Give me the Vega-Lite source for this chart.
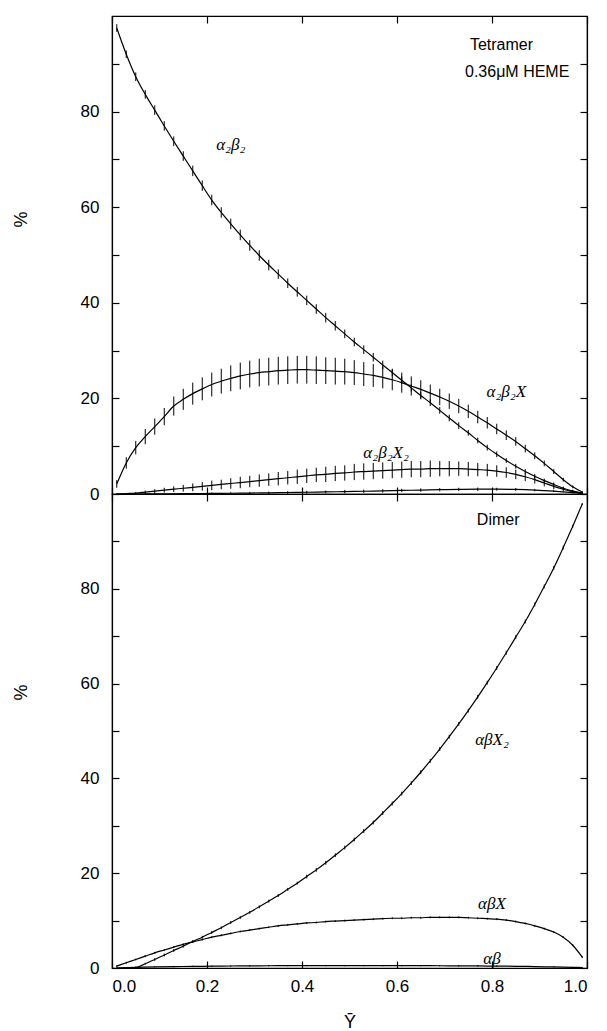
{
  "$schema": "https://vega.github.io/schema/vega-lite/v6.json",
  "background": "white",
  "padding": {"left": 11, "top": 14, "right": 15, "bottom": 0},
  "spacing": 0,
  "bounds": "flush",
  "config": {
    "font": "Liberation Sans",
    "view": {"stroke": "black", "strokeWidth": 1.2},
    "axis": {
      "grid": false, "domainColor": "black", "domainWidth": 1.2, "minExtent": 0,
      "tickColor": "black", "tickWidth": 1.2, "tickSize": -7,
      "labelColor": "black", "labelFont": "Liberation Sans", "labelFontSize": 17,
      "titleColor": "black", "titleFont": "Liberation Sans", "titleFontSize": 18, "titleFontWeight": "normal"
    }
  },
  "datasets": {
    "pts": [
      {"p":"T","s":"a2b2","x":0.01,"y":97.5,"e":0.8},{"p":"T","s":"a2b2","x":0.03,"y":92.0,"e":0.8},{"p":"T","s":"a2b2","x":0.05,"y":87.3,"e":0.9},{"p":"T","s":"a2b2","x":0.07,"y":83.6,"e":0.9},{"p":"T","s":"a2b2","x":0.09,"y":80.3,"e":1.0},{"p":"T","s":"a2b2","x":0.11,"y":77.0,"e":1.0},{"p":"T","s":"a2b2","x":0.13,"y":73.8,"e":1.0},{"p":"T","s":"a2b2","x":0.15,"y":70.7,"e":1.0},{"p":"T","s":"a2b2","x":0.17,"y":67.6,"e":1.1},{"p":"T","s":"a2b2","x":0.19,"y":64.5,"e":1.1},
      {"p":"T","s":"a2b2","x":0.21,"y":61.5,"e":1.1},{"p":"T","s":"a2b2","x":0.23,"y":58.9,"e":1.1},{"p":"T","s":"a2b2","x":0.25,"y":56.5,"e":1.1},{"p":"T","s":"a2b2","x":0.27,"y":54.2,"e":1.1},{"p":"T","s":"a2b2","x":0.29,"y":52.0,"e":1.1},{"p":"T","s":"a2b2","x":0.31,"y":49.9,"e":1.1},{"p":"T","s":"a2b2","x":0.33,"y":47.9,"e":1.1},{"p":"T","s":"a2b2","x":0.35,"y":46.0,"e":1.0},{"p":"T","s":"a2b2","x":0.37,"y":44.1,"e":1.0},{"p":"T","s":"a2b2","x":0.39,"y":42.3,"e":1.0},
      {"p":"T","s":"a2b2","x":0.41,"y":40.5,"e":1.0},{"p":"T","s":"a2b2","x":0.43,"y":38.7,"e":1.0},{"p":"T","s":"a2b2","x":0.45,"y":36.9,"e":1.0},{"p":"T","s":"a2b2","x":0.47,"y":35.2,"e":1.0},{"p":"T","s":"a2b2","x":0.49,"y":33.5,"e":0.9},{"p":"T","s":"a2b2","x":0.51,"y":31.8,"e":0.9},{"p":"T","s":"a2b2","x":0.53,"y":30.2,"e":0.9},{"p":"T","s":"a2b2","x":0.55,"y":28.6,"e":0.9},{"p":"T","s":"a2b2","x":0.57,"y":27.0,"e":0.9},{"p":"T","s":"a2b2","x":0.59,"y":25.4,"e":0.8},
      {"p":"T","s":"a2b2","x":0.61,"y":23.8,"e":0.8},{"p":"T","s":"a2b2","x":0.63,"y":22.2,"e":0.8},{"p":"T","s":"a2b2","x":0.65,"y":20.6,"e":0.8},{"p":"T","s":"a2b2","x":0.67,"y":19.1,"e":0.7},{"p":"T","s":"a2b2","x":0.69,"y":17.5,"e":0.7},{"p":"T","s":"a2b2","x":0.71,"y":15.9,"e":0.7},{"p":"T","s":"a2b2","x":0.73,"y":14.3,"e":0.7},{"p":"T","s":"a2b2","x":0.75,"y":12.8,"e":0.6},{"p":"T","s":"a2b2","x":0.77,"y":11.2,"e":0.6},{"p":"T","s":"a2b2","x":0.79,"y":9.7,"e":0.6},
      {"p":"T","s":"a2b2","x":0.81,"y":8.3,"e":0.6},{"p":"T","s":"a2b2","x":0.83,"y":7.0,"e":0.5},{"p":"T","s":"a2b2","x":0.85,"y":5.8,"e":0.5},{"p":"T","s":"a2b2","x":0.87,"y":4.7,"e":0.5},{"p":"T","s":"a2b2","x":0.89,"y":3.7,"e":0.5},{"p":"T","s":"a2b2","x":0.91,"y":2.8,"e":0.4},{"p":"T","s":"a2b2","x":0.93,"y":2.0,"e":0.4},{"p":"T","s":"a2b2","x":0.95,"y":1.2,"e":0.3},{"p":"T","s":"a2b2","x":0.97,"y":0.6,"e":0.3},{"p":"T","s":"a2b2","x":0.99,"y":0.2,"e":0.2},

      {"p":"T","s":"a2b2X","x":0.01,"y":2.1,"e":0.8},{"p":"T","s":"a2b2X","x":0.03,"y":6.5,"e":1.2},{"p":"T","s":"a2b2X","x":0.05,"y":9.7,"e":1.4},{"p":"T","s":"a2b2X","x":0.07,"y":12.0,"e":1.6},{"p":"T","s":"a2b2X","x":0.09,"y":14.1,"e":1.7},{"p":"T","s":"a2b2X","x":0.11,"y":16.2,"e":1.8},{"p":"T","s":"a2b2X","x":0.13,"y":18.4,"e":2.0},{"p":"T","s":"a2b2X","x":0.15,"y":19.8,"e":2.2},{"p":"T","s":"a2b2X","x":0.17,"y":21.0,"e":2.3},{"p":"T","s":"a2b2X","x":0.19,"y":22.0,"e":2.4},
      {"p":"T","s":"a2b2X","x":0.21,"y":22.9,"e":2.5},{"p":"T","s":"a2b2X","x":0.23,"y":23.6,"e":2.6},{"p":"T","s":"a2b2X","x":0.25,"y":24.2,"e":2.7},{"p":"T","s":"a2b2X","x":0.27,"y":24.7,"e":2.8},{"p":"T","s":"a2b2X","x":0.29,"y":25.1,"e":2.8},{"p":"T","s":"a2b2X","x":0.31,"y":25.4,"e":2.9},{"p":"T","s":"a2b2X","x":0.33,"y":25.6,"e":2.9},{"p":"T","s":"a2b2X","x":0.35,"y":25.8,"e":2.9},{"p":"T","s":"a2b2X","x":0.37,"y":25.9,"e":2.9},{"p":"T","s":"a2b2X","x":0.39,"y":26.0,"e":2.9},
      {"p":"T","s":"a2b2X","x":0.41,"y":26.0,"e":2.9},{"p":"T","s":"a2b2X","x":0.43,"y":25.9,"e":2.9},{"p":"T","s":"a2b2X","x":0.45,"y":25.8,"e":2.8},{"p":"T","s":"a2b2X","x":0.47,"y":25.7,"e":2.8},{"p":"T","s":"a2b2X","x":0.49,"y":25.6,"e":2.7},{"p":"T","s":"a2b2X","x":0.51,"y":25.4,"e":2.6},{"p":"T","s":"a2b2X","x":0.53,"y":25.1,"e":2.5},{"p":"T","s":"a2b2X","x":0.55,"y":24.8,"e":2.4},{"p":"T","s":"a2b2X","x":0.57,"y":24.4,"e":2.3},{"p":"T","s":"a2b2X","x":0.59,"y":23.9,"e":2.2},
      {"p":"T","s":"a2b2X","x":0.61,"y":23.3,"e":2.1},{"p":"T","s":"a2b2X","x":0.63,"y":22.6,"e":2.0},{"p":"T","s":"a2b2X","x":0.65,"y":21.9,"e":1.9},{"p":"T","s":"a2b2X","x":0.67,"y":21.1,"e":1.8},{"p":"T","s":"a2b2X","x":0.69,"y":20.3,"e":1.7},{"p":"T","s":"a2b2X","x":0.71,"y":19.4,"e":1.6},{"p":"T","s":"a2b2X","x":0.73,"y":18.4,"e":1.5},{"p":"T","s":"a2b2X","x":0.75,"y":17.3,"e":1.4},{"p":"T","s":"a2b2X","x":0.77,"y":16.1,"e":1.3},{"p":"T","s":"a2b2X","x":0.79,"y":14.9,"e":1.2},
      {"p":"T","s":"a2b2X","x":0.81,"y":13.6,"e":1.1},{"p":"T","s":"a2b2X","x":0.83,"y":12.3,"e":1.0},{"p":"T","s":"a2b2X","x":0.85,"y":11.0,"e":0.9},{"p":"T","s":"a2b2X","x":0.87,"y":9.5,"e":0.8},{"p":"T","s":"a2b2X","x":0.89,"y":8.0,"e":0.7},{"p":"T","s":"a2b2X","x":0.91,"y":6.4,"e":0.6},{"p":"T","s":"a2b2X","x":0.93,"y":4.7,"e":0.5},{"p":"T","s":"a2b2X","x":0.95,"y":3.0,"e":0.4},{"p":"T","s":"a2b2X","x":0.97,"y":1.5,"e":0.3},{"p":"T","s":"a2b2X","x":0.99,"y":0.4,"e":0.2},

      {"p":"T","s":"a2b2X2","x":0.01,"y":0.0,"e":0.1},{"p":"T","s":"a2b2X2","x":0.03,"y":0.1,"e":0.1},{"p":"T","s":"a2b2X2","x":0.05,"y":0.2,"e":0.2},{"p":"T","s":"a2b2X2","x":0.07,"y":0.4,"e":0.3},{"p":"T","s":"a2b2X2","x":0.09,"y":0.6,"e":0.4},{"p":"T","s":"a2b2X2","x":0.11,"y":0.8,"e":0.5},{"p":"T","s":"a2b2X2","x":0.13,"y":1.0,"e":0.6},{"p":"T","s":"a2b2X2","x":0.15,"y":1.2,"e":0.7},{"p":"T","s":"a2b2X2","x":0.17,"y":1.4,"e":0.8},{"p":"T","s":"a2b2X2","x":0.19,"y":1.6,"e":0.9},
      {"p":"T","s":"a2b2X2","x":0.21,"y":1.8,"e":1.0},{"p":"T","s":"a2b2X2","x":0.23,"y":2.0,"e":1.0},{"p":"T","s":"a2b2X2","x":0.25,"y":2.2,"e":1.1},{"p":"T","s":"a2b2X2","x":0.27,"y":2.4,"e":1.2},{"p":"T","s":"a2b2X2","x":0.29,"y":2.6,"e":1.2},{"p":"T","s":"a2b2X2","x":0.31,"y":2.8,"e":1.3},{"p":"T","s":"a2b2X2","x":0.33,"y":3.0,"e":1.3},{"p":"T","s":"a2b2X2","x":0.35,"y":3.2,"e":1.4},{"p":"T","s":"a2b2X2","x":0.37,"y":3.4,"e":1.4},{"p":"T","s":"a2b2X2","x":0.39,"y":3.6,"e":1.5},
      {"p":"T","s":"a2b2X2","x":0.41,"y":3.8,"e":1.5},{"p":"T","s":"a2b2X2","x":0.43,"y":4.0,"e":1.5},{"p":"T","s":"a2b2X2","x":0.45,"y":4.1,"e":1.6},{"p":"T","s":"a2b2X2","x":0.47,"y":4.3,"e":1.6},{"p":"T","s":"a2b2X2","x":0.49,"y":4.4,"e":1.6},{"p":"T","s":"a2b2X2","x":0.51,"y":4.6,"e":1.7},{"p":"T","s":"a2b2X2","x":0.53,"y":4.7,"e":1.7},{"p":"T","s":"a2b2X2","x":0.55,"y":4.8,"e":1.7},{"p":"T","s":"a2b2X2","x":0.57,"y":4.9,"e":1.7},{"p":"T","s":"a2b2X2","x":0.59,"y":5.0,"e":1.7},
      {"p":"T","s":"a2b2X2","x":0.61,"y":5.1,"e":1.7},{"p":"T","s":"a2b2X2","x":0.63,"y":5.2,"e":1.7},{"p":"T","s":"a2b2X2","x":0.65,"y":5.2,"e":1.7},{"p":"T","s":"a2b2X2","x":0.67,"y":5.3,"e":1.7},{"p":"T","s":"a2b2X2","x":0.69,"y":5.3,"e":1.6},{"p":"T","s":"a2b2X2","x":0.71,"y":5.3,"e":1.6},{"p":"T","s":"a2b2X2","x":0.73,"y":5.3,"e":1.5},{"p":"T","s":"a2b2X2","x":0.75,"y":5.2,"e":1.5},{"p":"T","s":"a2b2X2","x":0.77,"y":5.1,"e":1.4},{"p":"T","s":"a2b2X2","x":0.79,"y":5.0,"e":1.3},
      {"p":"T","s":"a2b2X2","x":0.81,"y":4.8,"e":1.2},{"p":"T","s":"a2b2X2","x":0.83,"y":4.5,"e":1.1},{"p":"T","s":"a2b2X2","x":0.85,"y":4.1,"e":1.0},{"p":"T","s":"a2b2X2","x":0.87,"y":3.6,"e":0.9},{"p":"T","s":"a2b2X2","x":0.89,"y":3.0,"e":0.8},{"p":"T","s":"a2b2X2","x":0.91,"y":2.3,"e":0.7},{"p":"T","s":"a2b2X2","x":0.93,"y":1.6,"e":0.6},{"p":"T","s":"a2b2X2","x":0.95,"y":1.0,"e":0.5},{"p":"T","s":"a2b2X2","x":0.97,"y":0.5,"e":0.3},{"p":"T","s":"a2b2X2","x":0.99,"y":0.2,"e":0.2},

      {"p":"T","s":"a2b2X3","x":0.01,"y":0.0,"e":0.05},{"p":"T","s":"a2b2X3","x":0.05,"y":0.0,"e":0.05},{"p":"T","s":"a2b2X3","x":0.09,"y":0.03,"e":0.1},{"p":"T","s":"a2b2X3","x":0.13,"y":0.05,"e":0.1},{"p":"T","s":"a2b2X3","x":0.17,"y":0.08,"e":0.15},{"p":"T","s":"a2b2X3","x":0.21,"y":0.12,"e":0.2},{"p":"T","s":"a2b2X3","x":0.25,"y":0.16,"e":0.2},{"p":"T","s":"a2b2X3","x":0.29,"y":0.2,"e":0.25},{"p":"T","s":"a2b2X3","x":0.33,"y":0.25,"e":0.25},{"p":"T","s":"a2b2X3","x":0.37,"y":0.31,"e":0.3},
      {"p":"T","s":"a2b2X3","x":0.41,"y":0.37,"e":0.3},{"p":"T","s":"a2b2X3","x":0.45,"y":0.43,"e":0.3},{"p":"T","s":"a2b2X3","x":0.49,"y":0.5,"e":0.35},{"p":"T","s":"a2b2X3","x":0.53,"y":0.58,"e":0.35},{"p":"T","s":"a2b2X3","x":0.57,"y":0.66,"e":0.35},{"p":"T","s":"a2b2X3","x":0.61,"y":0.74,"e":0.35},{"p":"T","s":"a2b2X3","x":0.65,"y":0.82,"e":0.35},{"p":"T","s":"a2b2X3","x":0.69,"y":0.9,"e":0.35},{"p":"T","s":"a2b2X3","x":0.73,"y":0.96,"e":0.35},{"p":"T","s":"a2b2X3","x":0.77,"y":1.0,"e":0.35},
      {"p":"T","s":"a2b2X3","x":0.81,"y":1.0,"e":0.3},{"p":"T","s":"a2b2X3","x":0.85,"y":0.95,"e":0.3},{"p":"T","s":"a2b2X3","x":0.89,"y":0.82,"e":0.25},{"p":"T","s":"a2b2X3","x":0.93,"y":0.6,"e":0.2},{"p":"T","s":"a2b2X3","x":0.97,"y":0.3,"e":0.15},{"p":"T","s":"a2b2X3","x":0.99,"y":0.15,"e":0.1},

      {"p":"D","s":"abX2","x":0.03,"y":0.0,"e":0.2},{"p":"D","s":"abX2","x":0.05,"y":0.1,"e":0.2},{"p":"D","s":"abX2","x":0.07,"y":0.9,"e":0.2},{"p":"D","s":"abX2","x":0.09,"y":1.8,"e":0.3},{"p":"D","s":"abX2","x":0.11,"y":2.75,"e":0.3},{"p":"D","s":"abX2","x":0.13,"y":3.7,"e":0.3},{"p":"D","s":"abX2","x":0.15,"y":4.6,"e":0.3},{"p":"D","s":"abX2","x":0.17,"y":5.6,"e":0.3},{"p":"D","s":"abX2","x":0.19,"y":6.5,"e":0.3},
      {"p":"D","s":"abX2","x":0.21,"y":7.5,"e":0.3},{"p":"D","s":"abX2","x":0.23,"y":8.5,"e":0.3},{"p":"D","s":"abX2","x":0.25,"y":9.6,"e":0.3},{"p":"D","s":"abX2","x":0.27,"y":10.65,"e":0.3},{"p":"D","s":"abX2","x":0.29,"y":11.75,"e":0.3},{"p":"D","s":"abX2","x":0.31,"y":12.9,"e":0.3},{"p":"D","s":"abX2","x":0.33,"y":14.1,"e":0.3},{"p":"D","s":"abX2","x":0.35,"y":15.3,"e":0.3},{"p":"D","s":"abX2","x":0.37,"y":16.6,"e":0.3},{"p":"D","s":"abX2","x":0.39,"y":17.9,"e":0.3},
      {"p":"D","s":"abX2","x":0.41,"y":19.3,"e":0.4},{"p":"D","s":"abX2","x":0.43,"y":20.7,"e":0.4},{"p":"D","s":"abX2","x":0.45,"y":22.2,"e":0.4},{"p":"D","s":"abX2","x":0.47,"y":23.8,"e":0.4},{"p":"D","s":"abX2","x":0.49,"y":25.4,"e":0.4},{"p":"D","s":"abX2","x":0.51,"y":27.1,"e":0.4},{"p":"D","s":"abX2","x":0.53,"y":28.9,"e":0.4},{"p":"D","s":"abX2","x":0.55,"y":30.7,"e":0.4},{"p":"D","s":"abX2","x":0.57,"y":32.7,"e":0.4},{"p":"D","s":"abX2","x":0.59,"y":34.7,"e":0.4},
      {"p":"D","s":"abX2","x":0.61,"y":36.8,"e":0.4},{"p":"D","s":"abX2","x":0.63,"y":39.0,"e":0.4},{"p":"D","s":"abX2","x":0.65,"y":41.3,"e":0.4},{"p":"D","s":"abX2","x":0.67,"y":43.7,"e":0.4},{"p":"D","s":"abX2","x":0.69,"y":46.2,"e":0.4},{"p":"D","s":"abX2","x":0.71,"y":48.8,"e":0.4},{"p":"D","s":"abX2","x":0.73,"y":51.5,"e":0.4},{"p":"D","s":"abX2","x":0.75,"y":54.3,"e":0.4},{"p":"D","s":"abX2","x":0.77,"y":57.2,"e":0.4},{"p":"D","s":"abX2","x":0.79,"y":60.2,"e":0.4},
      {"p":"D","s":"abX2","x":0.81,"y":63.3,"e":0.4},{"p":"D","s":"abX2","x":0.83,"y":66.5,"e":0.4},{"p":"D","s":"abX2","x":0.85,"y":69.8,"e":0.4},{"p":"D","s":"abX2","x":0.87,"y":73.1,"e":0.4},{"p":"D","s":"abX2","x":0.89,"y":76.7,"e":0.4},{"p":"D","s":"abX2","x":0.91,"y":80.5,"e":0.4},{"p":"D","s":"abX2","x":0.93,"y":84.4,"e":0.4},{"p":"D","s":"abX2","x":0.95,"y":88.7,"e":0.4},{"p":"D","s":"abX2","x":0.97,"y":93.2,"e":0.3},{"p":"D","s":"abX2","x":0.99,"y":97.9,"e":0.2},

      {"p":"D","s":"abX","x":0.01,"y":0.4,"e":0.2},{"p":"D","s":"abX","x":0.03,"y":1.1,"e":0.2},{"p":"D","s":"abX","x":0.05,"y":1.8,"e":0.2},{"p":"D","s":"abX","x":0.07,"y":2.5,"e":0.2},{"p":"D","s":"abX","x":0.09,"y":3.2,"e":0.2},{"p":"D","s":"abX","x":0.11,"y":3.8,"e":0.2},{"p":"D","s":"abX","x":0.13,"y":4.4,"e":0.2},{"p":"D","s":"abX","x":0.15,"y":5.0,"e":0.2},{"p":"D","s":"abX","x":0.17,"y":5.5,"e":0.2},{"p":"D","s":"abX","x":0.19,"y":6.0,"e":0.2},
      {"p":"D","s":"abX","x":0.21,"y":6.5,"e":0.2},{"p":"D","s":"abX","x":0.23,"y":6.9,"e":0.2},{"p":"D","s":"abX","x":0.25,"y":7.3,"e":0.2},{"p":"D","s":"abX","x":0.27,"y":7.7,"e":0.2},{"p":"D","s":"abX","x":0.29,"y":8.0,"e":0.2},{"p":"D","s":"abX","x":0.31,"y":8.3,"e":0.2},{"p":"D","s":"abX","x":0.33,"y":8.6,"e":0.2},{"p":"D","s":"abX","x":0.35,"y":8.9,"e":0.2},{"p":"D","s":"abX","x":0.37,"y":9.1,"e":0.2},{"p":"D","s":"abX","x":0.39,"y":9.3,"e":0.2},
      {"p":"D","s":"abX","x":0.41,"y":9.5,"e":0.2},{"p":"D","s":"abX","x":0.43,"y":9.6,"e":0.2},{"p":"D","s":"abX","x":0.45,"y":9.8,"e":0.2},{"p":"D","s":"abX","x":0.47,"y":9.9,"e":0.2},{"p":"D","s":"abX","x":0.49,"y":10.0,"e":0.2},{"p":"D","s":"abX","x":0.51,"y":10.1,"e":0.2},{"p":"D","s":"abX","x":0.53,"y":10.2,"e":0.2},{"p":"D","s":"abX","x":0.55,"y":10.3,"e":0.2},{"p":"D","s":"abX","x":0.57,"y":10.4,"e":0.2},{"p":"D","s":"abX","x":0.59,"y":10.5,"e":0.2},
      {"p":"D","s":"abX","x":0.61,"y":10.5,"e":0.2},{"p":"D","s":"abX","x":0.63,"y":10.6,"e":0.2},{"p":"D","s":"abX","x":0.65,"y":10.6,"e":0.2},{"p":"D","s":"abX","x":0.67,"y":10.7,"e":0.2},{"p":"D","s":"abX","x":0.69,"y":10.7,"e":0.2},{"p":"D","s":"abX","x":0.71,"y":10.7,"e":0.2},{"p":"D","s":"abX","x":0.73,"y":10.7,"e":0.2},{"p":"D","s":"abX","x":0.75,"y":10.6,"e":0.2},{"p":"D","s":"abX","x":0.77,"y":10.5,"e":0.2},{"p":"D","s":"abX","x":0.79,"y":10.4,"e":0.2},
      {"p":"D","s":"abX","x":0.81,"y":10.3,"e":0.2},{"p":"D","s":"abX","x":0.83,"y":10.1,"e":0.2},{"p":"D","s":"abX","x":0.85,"y":9.8,"e":0.2},{"p":"D","s":"abX","x":0.87,"y":9.4,"e":0.2},{"p":"D","s":"abX","x":0.89,"y":8.9,"e":0.2},{"p":"D","s":"abX","x":0.91,"y":8.3,"e":0.2},{"p":"D","s":"abX","x":0.93,"y":7.6,"e":0.2},{"p":"D","s":"abX","x":0.95,"y":6.5,"e":0.2},{"p":"D","s":"abX","x":0.97,"y":4.8,"e":0.2},{"p":"D","s":"abX","x":0.99,"y":2.3,"e":0.2},

      {"p":"D","s":"ab","x":0.01,"y":0.05,"e":0.1},{"p":"D","s":"ab","x":0.05,"y":0.15,"e":0.1},{"p":"D","s":"ab","x":0.09,"y":0.25,"e":0.1},{"p":"D","s":"ab","x":0.13,"y":0.3,"e":0.15},{"p":"D","s":"ab","x":0.17,"y":0.34,"e":0.15},{"p":"D","s":"ab","x":0.21,"y":0.38,"e":0.15},{"p":"D","s":"ab","x":0.25,"y":0.42,"e":0.15},{"p":"D","s":"ab","x":0.29,"y":0.45,"e":0.15},{"p":"D","s":"ab","x":0.33,"y":0.47,"e":0.15},{"p":"D","s":"ab","x":0.37,"y":0.49,"e":0.15},
      {"p":"D","s":"ab","x":0.41,"y":0.5,"e":0.15},{"p":"D","s":"ab","x":0.45,"y":0.5,"e":0.15},{"p":"D","s":"ab","x":0.49,"y":0.5,"e":0.15},{"p":"D","s":"ab","x":0.53,"y":0.5,"e":0.15},{"p":"D","s":"ab","x":0.57,"y":0.5,"e":0.15},{"p":"D","s":"ab","x":0.61,"y":0.5,"e":0.15},{"p":"D","s":"ab","x":0.65,"y":0.49,"e":0.15},{"p":"D","s":"ab","x":0.69,"y":0.47,"e":0.15},{"p":"D","s":"ab","x":0.73,"y":0.45,"e":0.15},{"p":"D","s":"ab","x":0.77,"y":0.43,"e":0.15},
      {"p":"D","s":"ab","x":0.81,"y":0.4,"e":0.15},{"p":"D","s":"ab","x":0.85,"y":0.36,"e":0.1},{"p":"D","s":"ab","x":0.89,"y":0.3,"e":0.1},{"p":"D","s":"ab","x":0.93,"y":0.22,"e":0.1},{"p":"D","s":"ab","x":0.97,"y":0.14,"e":0.1},{"p":"D","s":"ab","x":0.99,"y":0.1,"e":0.1}
    ],
    "curvelabs": [
      {"p":"T","x":0.25,"y":73,"t":"α₂β₂"},
      {"p":"T","x":0.83,"y":21.3,"t":"α₂β₂X"},
      {"p":"T","x":0.577,"y":8.6,"t":"α₂β₂X₂"},
      {"p":"D","x":0.8,"y":48,"t":"αβX₂"},
      {"p":"D","x":0.8,"y":13.5,"t":"αβX"},
      {"p":"D","x":0.8,"y":2,"t":"αβ"}
    ],
    "heads": [
      {"p":"T","x":0.82,"y":93.9,"t":"Tetramer"},
      {"p":"T","x":0.853,"y":88.2,"t":"0.36μM HEME"},
      {"p":"D","x":0.813,"y":94.5,"t":"Dimer"}
    ]
  },
  "vconcat": [
    {
      "width": 475, "height": 478,
      "layer": [
        {
          "data": {"name": "pts"},
          "transform": [{"filter": "datum.p === 'T'"}],
          "mark": {"type": "line", "interpolate": "monotone", "color": "black", "strokeWidth": 1.2},
          "encoding": {
            "x": {"field": "x", "type": "quantitative", "scale": {"domain": [0, 1], "nice": false},
                  "axis": {"orient": "bottom", "values": [0, 0.2, 0.4, 0.6, 0.8, 1], "labels": false, "title": null}},
            "y": {"field": "y", "type": "quantitative", "scale": {"domain": [0, 100], "nice": false},
                  "axis": {"orient": "left", "values": [0,10,20,30,40,50,60,70,80,90], "labelExpr": "datum.value % 20 === 0 ? datum.label : ''", "labelPadding": 20, "title": "%", "titlePadding": 50, "titleY": 203}},
            "detail": {"field": "s"}
          }
        },
        {
          "data": {"name": "pts"},
          "transform": [{"filter": "datum.p === 'T'"}],
          "mark": {"type": "errorbar", "color": "black", "thickness": 1},
          "encoding": {
            "x": {"field": "x", "type": "quantitative", "scale": {"domain": [0, 1], "nice": false},
                  "axis": {"orient": "top", "values": [0, 0.2, 0.4, 0.6, 0.8, 1], "labels": false, "title": null}},
            "y": {"field": "y", "type": "quantitative", "scale": {"domain": [0, 100], "nice": false},
                  "axis": {"orient": "right", "values": [0,10,20,30,40,50,60,70,80,90], "labels": false, "title": null}},
            "yError": {"field": "e"}
          }
        },
        {
          "data": {"name": "curvelabs"},
          "transform": [{"filter": "datum.p === 'T'"}],
          "mark": {"type": "text", "font": "Liberation Serif", "fontStyle": "italic", "fontSize": 17, "color": "black"},
          "encoding": {
            "x": {"field": "x", "type": "quantitative", "axis": null},
            "y": {"field": "y", "type": "quantitative", "axis": null},
            "text": {"field": "t"}
          }
        },
        {
          "data": {"name": "heads"},
          "transform": [{"filter": "datum.p === 'T'"}],
          "mark": {"type": "text", "font": "Liberation Sans", "fontSize": 16, "color": "black"},
          "encoding": {
            "x": {"field": "x", "type": "quantitative", "axis": null},
            "y": {"field": "y", "type": "quantitative", "axis": null},
            "text": {"field": "t"}
          }
        }
      ],
      "resolve": {"axis": {"x": "independent", "y": "independent"}}
    },
    {
      "width": 475, "height": 474,
      "layer": [
        {
          "data": {"name": "pts"},
          "transform": [{"filter": "datum.p === 'D'"}],
          "mark": {"type": "line", "interpolate": "monotone", "color": "black", "strokeWidth": 1.2},
          "encoding": {
            "x": {"field": "x", "type": "quantitative", "scale": {"domain": [0, 1], "nice": false},
                  "axis": {"orient": "bottom", "values": [0, 0.2, 0.4, 0.6, 0.8, 1], "format": ".1f", "labelPadding": 17, "title": "Ȳ", "titlePadding": 19}},
            "y": {"field": "y", "type": "quantitative", "scale": {"domain": [0, 100], "nice": false},
                  "axis": {"orient": "left", "values": [0,10,20,30,40,50,60,70,80,90], "labelExpr": "datum.value % 20 === 0 ? datum.label : ''", "labelPadding": 20, "title": "%", "titlePadding": 50, "titleY": 198}},
            "detail": {"field": "s"}
          }
        },
        {
          "data": {"name": "pts"},
          "transform": [{"filter": "datum.p === 'D'"}],
          "mark": {"type": "errorbar", "color": "black", "thickness": 1},
          "encoding": {
            "x": {"field": "x", "type": "quantitative", "scale": {"domain": [0, 1], "nice": false},
                  "axis": {"orient": "top", "values": [0, 0.2, 0.4, 0.6, 0.8, 1], "labels": false, "title": null}},
            "y": {"field": "y", "type": "quantitative", "scale": {"domain": [0, 100], "nice": false},
                  "axis": {"orient": "right", "values": [0,10,20,30,40,50,60,70,80,90], "labels": false, "title": null}},
            "yError": {"field": "e"}
          }
        },
        {
          "data": {"name": "curvelabs"},
          "transform": [{"filter": "datum.p === 'D'"}],
          "mark": {"type": "text", "font": "Liberation Serif", "fontStyle": "italic", "fontSize": 17, "color": "black"},
          "encoding": {
            "x": {"field": "x", "type": "quantitative", "axis": null},
            "y": {"field": "y", "type": "quantitative", "axis": null},
            "text": {"field": "t"}
          }
        },
        {
          "data": {"name": "heads"},
          "transform": [{"filter": "datum.p === 'D'"}],
          "mark": {"type": "text", "font": "Liberation Sans", "fontSize": 16, "color": "black"},
          "encoding": {
            "x": {"field": "x", "type": "quantitative", "axis": null},
            "y": {"field": "y", "type": "quantitative", "axis": null},
            "text": {"field": "t"}
          }
        }
      ],
      "resolve": {"axis": {"x": "independent", "y": "independent"}}
    }
  ]
}
